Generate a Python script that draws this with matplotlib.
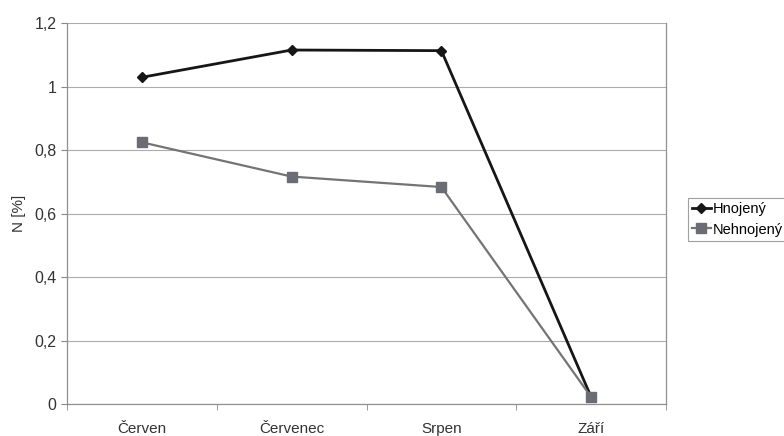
import matplotlib.pyplot as plt
from matplotlib.ticker import FuncFormatter

months = ['Červen', 'Červenec', 'Srpen', 'Září']
hnojeny = [1.03, 1.116, 1.114, 0.022]
nehnojeny = [0.825, 0.717, 0.684, 0.022]
yticks = [0, 0.2, 0.4, 0.6, 0.8, 1.0, 1.2]

plt.rcParams['font.family'] = ['Liberation Sans', 'DejaVu Sans']

fig = plt.figure(figsize=(7.84, 4.36), dpi=100)
ax = fig.add_axes([0.0855, 0.0734, 0.764, 0.873])

x = list(range(len(months)))
ax.plot(x, hnojeny, color='#161616', lw=2.0, marker='D', ms=5,
        mfc='#161616', mec='#161616', label='Hnojený')
ax.plot(x, nehnojeny, color='#747474', lw=1.6, marker='s', ms=6.5,
        mfc='#6c6c74', mec='#6c6c74', label='Nehnojený')

ax.set_xlim(-0.5, len(months) - 0.5)
ax.set_ylim(0, 1.2)
ax.set_yticks(yticks)
ax.yaxis.set_major_formatter(FuncFormatter(lambda v, p: f'{v:g}'.replace('.', ',')))
ax.set_xticks(x)
ax.set_xticklabels(months)
ax.set_xticks([i - 0.5 for i in range(len(months) + 1)], minor=True)
ax.tick_params(axis='x', which='major', length=0, pad=13, labelsize=11, colors='#333333')
ax.tick_params(axis='x', which='minor', length=4, color='#888888')
ax.tick_params(axis='y', length=4, color='#888888', labelsize=11.5, colors='#333333')
ax.set_ylabel('N [%]', fontsize=11, color='#333333', labelpad=6)

ax.grid(axis='y', color='#ababab', lw=0.8)
ax.set_axisbelow(True)
for side in ['left', 'bottom', 'right']:
    ax.spines[side].set_color('#909090')
    ax.spines[side].set_linewidth(0.9)
ax.spines['top'].set_visible(False)

leg = fig.legend(loc='center left', bbox_to_anchor=(0.877, 0.497), fontsize=10.5,
                 frameon=True, fancybox=False, edgecolor='#888888',
                 handlelength=1.3, handletextpad=0.1, borderpad=0.3,
                 labelspacing=0.45, borderaxespad=0)
leg.get_frame().set_linewidth(0.8)

fig.savefig('out.png', dpi=100)
